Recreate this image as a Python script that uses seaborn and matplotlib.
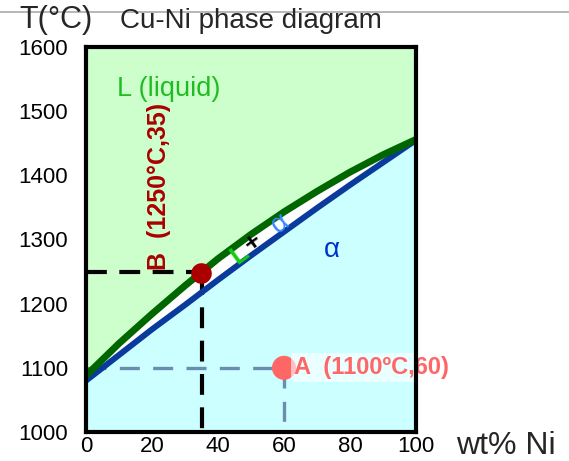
import matplotlib
matplotlib.use("Agg")
import matplotlib.pyplot as plt
import seaborn as sns
import pandas as pd
from matplotlib.lines import Line2D

# ---- data ----
wt_ni = [0, 10, 20, 30, 40, 50, 60, 70, 80, 90, 100]
liquidus = [1088, 1138, 1184, 1228, 1270, 1308, 1343, 1375, 1405, 1432, 1456]
solidus = [1080, 1120, 1160, 1198, 1237, 1275, 1312, 1349, 1385, 1420, 1455]
point_a = (60, 1100)
point_b = (35, 1247)
x_ticks = [0, 20, 40, 60, 80, 100]
y_ticks = [1000, 1100, 1200, 1300, 1400, 1500, 1600]

sns.set_theme(style="white")
plt.rcParams['font.family'] = ['Liberation Sans', 'DejaVu Sans']

df = pd.DataFrame({"x": wt_ni, "liq": liquidus, "sol": solidus})

fig = plt.figure(figsize=(5.69, 4.61), dpi=100)
ax = fig.add_axes([86/569, 1-432/461, 330/569, 385/461])

ax.set_xlim(0, 100)
ax.set_ylim(1000, 1600)

ax.fill_between(df["x"], df["liq"], 1600, color="#ccffcc", lw=0, zorder=0)
ax.fill_between(df["x"], 1000, df["sol"], color="#ccffff", lw=0, zorder=0)
ax.fill_between(df["x"], df["sol"], df["liq"], color="white", lw=0, zorder=0)

# dashed guides
ax.plot([0, point_b[0]], [1250, 1250], color="black", lw=3, dashes=(5, 3), zorder=2)
ax.plot([point_b[0], point_b[0]], [point_b[1], 1000], color="black", lw=3, dashes=(5, 3), zorder=2)
ax.plot([0, point_a[0]], [point_a[1], point_a[1]], color="#6a8db0", lw=2.4, dashes=(6, 4), zorder=2)
ax.plot([point_a[0], point_a[0]], [point_a[1], 1000], color="#6a8db0", lw=2.4, dashes=(6, 4), zorder=2)

sns.lineplot(data=df, x="x", y="sol", color="#0a3a9c", lw=4.3, ax=ax, zorder=3)
sns.lineplot(data=df, x="x", y="liq", color="#006600", lw=5, ax=ax, zorder=4)

pts = pd.DataFrame({"x": [point_a[0], point_b[0]], "y": [point_a[1], point_b[1]], "n": ["A", "B"]})
sns.scatterplot(data=pts[pts.n == "A"], x="x", y="y", color="#ff6666", s=300, edgecolor="none", ax=ax, zorder=5)
sns.scatterplot(data=pts[pts.n == "B"], x="x", y="y", color="#aa0000", s=220, edgecolor="none", ax=ax, zorder=5)

ax.text(63, 1100, "A  (1100ºC,60)", color="#ff6666", fontsize=17, fontweight="bold",
        va="center", ha="left", zorder=6,
        bbox=dict(facecolor="white", alpha=0.6, edgecolor="none", pad=2))
ax.text(22, 1253, "B  (1250°C,35)", color="#aa0000", fontsize=18, fontweight="bold",
        rotation=90, va="bottom", ha="center", zorder=6)
ax.text(9.5, 1535, "L (liquid)", color="#22bb22", fontsize=19.5, va="center", ha="left", zorder=6)
ax.text(74.5, 1284, "α", color="#0033cc", fontsize=20, va="center", ha="center", zorder=6)
ax.text(46.7, 1277, "L", color="#11cc11", fontsize=19, fontweight="bold", rotation=36, va="center", ha="center", zorder=6)
ax.text(50.8, 1295, "+", color="black", fontsize=19, fontweight="bold", rotation=36, va="center", ha="center", zorder=6)
ax.text(58.8, 1325, "α", color="#3388ff", fontsize=20, rotation=36, va="center", ha="center", zorder=6)

ax.set_xticks(x_ticks)
ax.set_yticks(y_ticks)
ax.set_xticklabels([str(v) for v in x_ticks], fontsize=16)
ax.set_yticklabels([str(v) for v in y_ticks], fontsize=16)
ax.tick_params(axis="both", direction="in", length=10, width=3, color="black", labelcolor="black")
ax.tick_params(axis="x", pad=3)
ax.tick_params(axis="y", pad=13)
ax.set_xlabel("")
ax.set_ylabel("")
for s in ax.spines.values():
    s.set_linewidth(3)
    s.set_color("black")
    s.set_zorder(7)

fig.text(19/569, 1-20/461, "T(°C)", fontsize=22, va="center", ha="left")
fig.text(120/569, 1-21/461, "Cu-Ni phase diagram", fontsize=20, va="center", ha="left")
fig.text(456/569, 1-446/461, "wt% Ni", fontsize=23, va="center", ha="left")
fig.add_artist(Line2D([0, 1], [1-12/461, 1-12/461], transform=fig.transFigure, color="#aaaaaa", lw=1.2))

fig.savefig("out.png", dpi=100)
